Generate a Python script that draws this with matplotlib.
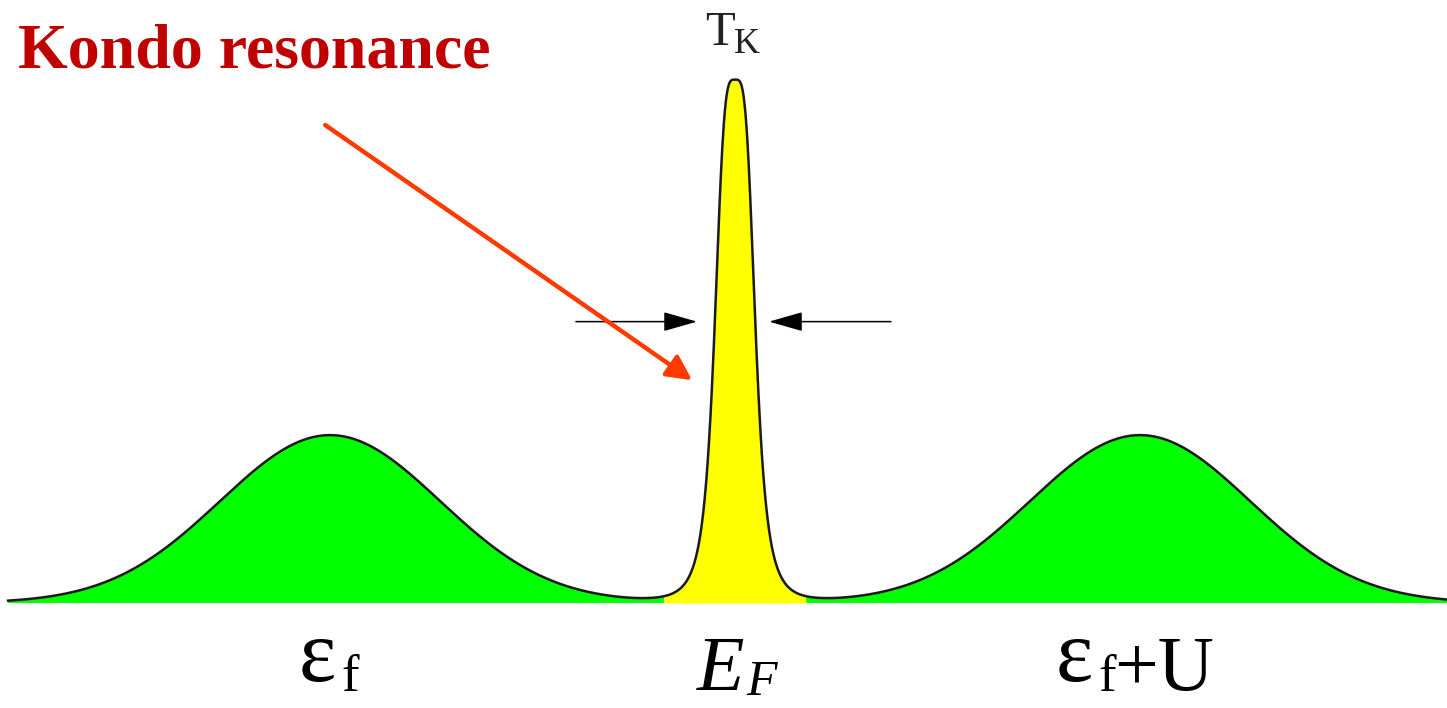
import numpy as np
import matplotlib
matplotlib.use("Agg")
import matplotlib.pyplot as plt
from matplotlib.patches import FancyArrowPatch

# Anderson impurity spectral function (schematic), energies in units of the
# distance from E_F to the lower Hubbard level, heights relative to the Kondo peak
hubbard_centers = [-1.0, 1.0]      # eps_f and eps_f + U
hubbard_heights = [0.321, 0.321]
hubbard_widths = [0.272, 0.272]

kondo_center = 0.0
kondo_height = 1.0
kondo_width = 0.0519               # half width at half maximum
kondo_power = 3.8

kondo_window = [-0.175, 0.175]     # part of the curve painted yellow
tk_arrow_y = 0.538                 # height where the width T_K is marked
tk_arrow_x = [[-0.393, -0.094], [0.385, 0.084]]

E = np.linspace(-1.795, 1.76, 3000)
dos = np.zeros_like(E)
for c, h, w in zip(hubbard_centers, hubbard_heights, hubbard_widths):
    dos += h * np.exp(-(E - c) ** 2 / (2 * w ** 2))
dos += kondo_height / (1 + np.abs((E - kondo_center) / kondo_width) ** kondo_power)

fig = plt.figure(figsize=(14.47, 7.08), dpi=100)
ax = fig.add_axes([0, 0, 1, 1])
ax.set_xlim(-1.815, 1.758)
ax.set_ylim(-0.2008, 1.153)
ax.axis("off")

in_kondo = (E >= kondo_window[0]) & (E <= kondo_window[1])
ax.fill_between(E, 0, dos, where=~in_kondo, color="#00ff00", lw=0, interpolate=True)
ax.fill_between(E, 0, dos, where=in_kondo, color="#ffff00", lw=0, interpolate=True)
ax.plot(E, dos, color="#1a1a1a", lw=1.8)

# width of the resonance
for x0, x1 in tk_arrow_x:
    ax.add_patch(FancyArrowPatch((x0, tk_arrow_y), (x1, tk_arrow_y),
                                 arrowstyle="-|>,head_length=1.05,head_width=0.3",
                                 mutation_scale=20, color="black", lw=1.1,
                                 shrinkA=0, shrinkB=0))

# pointer from the caption to the peak
ax.add_patch(FancyArrowPatch((-1.012, 0.914), (-0.106, 0.426),
                             arrowstyle="-|>,head_length=0.75,head_width=0.38",
                             mutation_scale=20, color="#ff3a00", lw=3.2,
                             shrinkA=0, shrinkB=0))

serif = "Liberation Serif"
ax.text(-1.770, 1.023, "Kondo resonance", family=serif, weight="bold",
        fontsize=46, color="#c00000", ha="left", va="baseline")

ax.text(-0.074, 1.067, "T", family=serif, fontsize=35, color="#222222",
        ha="left", va="baseline")
ax.text(-0.0025, 1.052, "K", family=serif, fontsize=26, color="#222222",
        ha="left", va="baseline")

# level labels under the axis
ax.text(-1.077, -0.149, "ε", family=serif, fontsize=64, ha="left", va="baseline")
ax.text(-0.973, -0.168, "f", family=serif, fontsize=38, ha="left", va="baseline")

ax.text(-0.094, -0.166, "E", family=serif, style="italic", fontsize=56,
        ha="left", va="baseline")
ax.text(0.028, -0.176, "F", family=serif, style="italic", fontsize=36,
        ha="left", va="baseline")

ax.text(0.792, -0.149, "ε", family=serif, fontsize=64, ha="left", va="baseline")
ax.text(0.896, -0.168, "f", family=serif, fontsize=38, ha="left", va="baseline")
ax.text(0.935, -0.166, "+U", family=serif, fontsize=56, ha="left", va="baseline")

fig.savefig("out.png", dpi=100)
